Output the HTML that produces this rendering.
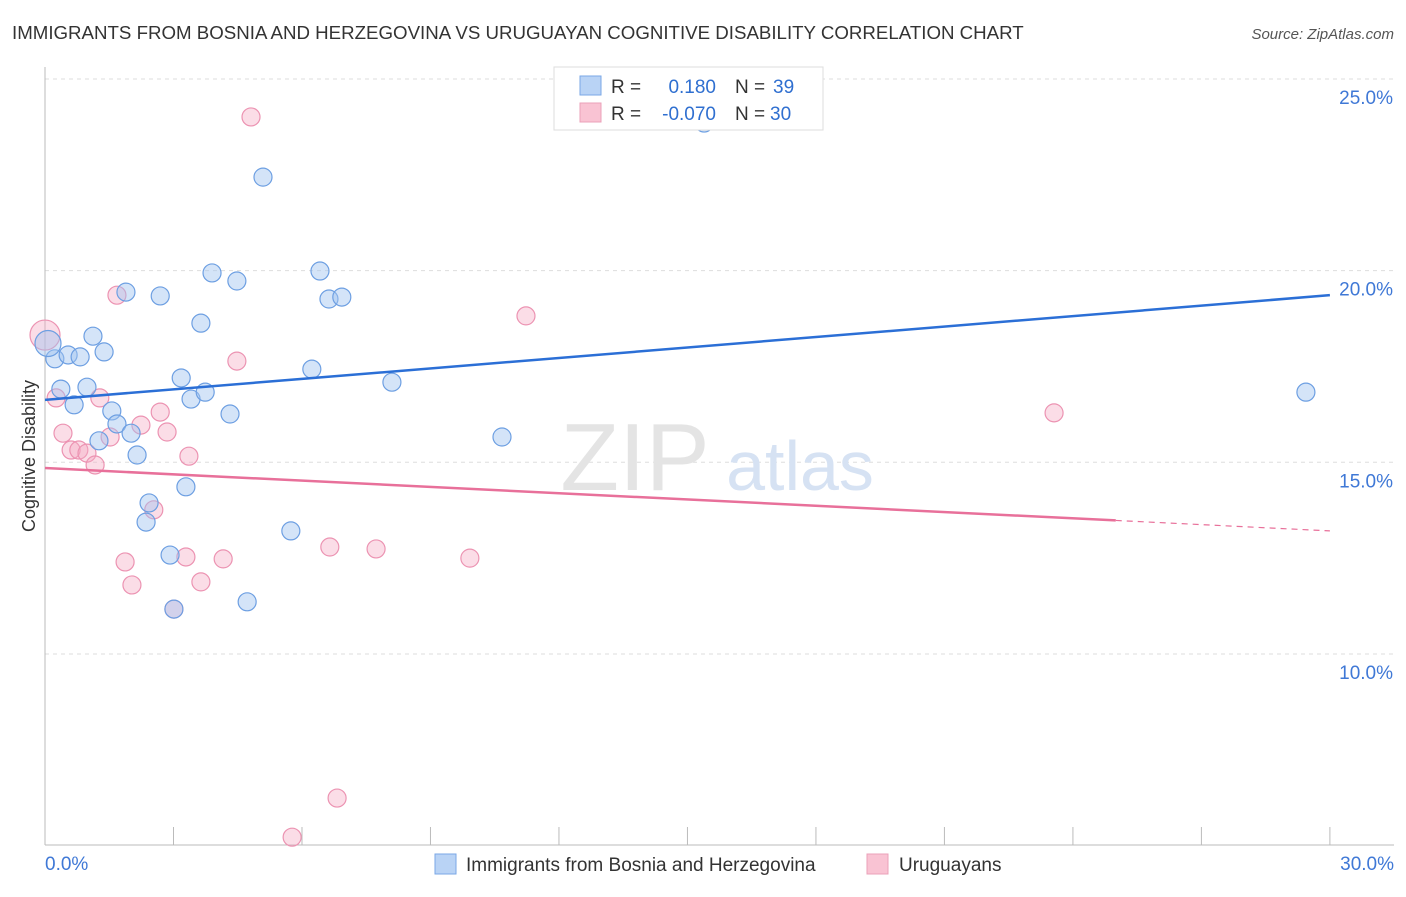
<!DOCTYPE html>
<html><head><meta charset="utf-8">
<style>
body{margin:0;background:#fff;font-family:"Liberation Sans",sans-serif;}
svg text{font-family:"Liberation Sans",sans-serif;}
</style></head>
<body>
<svg id="chart" width="1406" height="892" viewBox="0 0 1406 892" xmlns="http://www.w3.org/2000/svg">
<text x="12" y="39" font-size="18.7" fill="#333">IMMIGRANTS FROM BOSNIA AND HERZEGOVINA VS URUGUAYAN COGNITIVE DISABILITY CORRELATION CHART</text>
<text x="1394" y="39" font-size="15" fill="#555" font-style="italic" text-anchor="end">Source: ZipAtlas.com</text>
<g id="grid"></g>
<text x="635" y="490" font-size="96" fill="#e4e4e4" font-family="Liberation Serif" text-anchor="middle">ZIP</text>
<text x="800" y="490" font-size="70" fill="#d6e2f3" text-anchor="middle">atlas</text>
<g id="points"></g>
<g id="lines"></g>
<text x="35" y="456" font-size="18" fill="#333" transform="rotate(-90 35 456)" text-anchor="middle">Cognitive Disability</text>
<g>
<rect x="554" y="67" width="269" height="63" fill="#fff" stroke="#ddd"/>
<rect x="580" y="76" width="21" height="19" fill="#b9d3f5" stroke="#7aa7e6"/>
<rect x="580" y="103" width="21" height="19" fill="#f9c3d3" stroke="#eba0b8"/>
<text x="611" y="93" font-size="19" fill="#333">R = </text>
<text x="716" y="93" font-size="19" fill="#2f6fd0" text-anchor="end">0.180</text>
<text x="735" y="93" font-size="19" fill="#333">N = </text>
<text x="773" y="93" font-size="19" fill="#2f6fd0">39</text>
<text x="611" y="120" font-size="19" fill="#333">R = </text>
<text x="716" y="120" font-size="19" fill="#2f6fd0" text-anchor="end">-0.070</text>
<text x="735" y="120" font-size="19" fill="#333">N = </text>
<text x="770" y="120" font-size="19" fill="#2f6fd0">30</text>
</g>
<g>
<rect x="435" y="854" width="21" height="20" fill="#b9d3f5" stroke="#7aa7e6"/>
<text x="466" y="871" font-size="19" fill="#333">Immigrants from Bosnia and Herzegovina</text>
<rect x="867" y="854" width="21" height="20" fill="#f9c3d3" stroke="#eba0b8"/>
<text x="899" y="871" font-size="19" fill="#333">Uruguayans</text>
</g>
</svg>
<script>
const yTicks=[25,20,15,10];
const yTickLabels=["25.0%","20.0%","15.0%","10.0%"];
const xEndLabels=["0.0%","30.0%"];
const blueX=[0.23,0.54,0.82,0.37,0.68,0.98,1.12,1.38,1.56,1.68,1.26,2.01,2.15,1.89,2.69,2.43,2.36,2.92,3.01,3.18,3.29,3.41,3.74,3.64,3.90,4.48,4.32,5.09,4.72,5.74,6.42,6.63,6.93,6.23,8.10,10.67,15.39,29.44,0.07];
const blueY=[17.70,17.80,17.75,16.91,16.50,16.96,18.29,17.88,16.34,16.00,15.56,15.76,15.19,19.44,19.34,13.94,13.44,12.58,11.17,17.20,14.36,16.65,16.83,18.63,19.94,19.73,16.26,22.44,11.36,13.21,19.99,19.26,19.31,17.43,17.09,15.66,23.85,16.83,18.10];
const pinkX=[0,0.26,0.42,0.61,0.79,0.98,1.17,1.28,1.52,1.68,1.87,2.03,2.24,2.54,2.69,2.85,3.01,3.29,3.36,3.64,4.16,4.48,4.81,5.77,6.65,6.82,7.73,9.92,11.23,23.56];
const pinkY=[18.32,16.68,15.76,15.32,15.32,15.24,14.93,16.68,15.66,19.36,12.40,11.80,15.97,13.76,16.31,15.79,11.17,12.53,15.16,11.88,12.48,17.64,24.01,5.22,12.79,6.24,12.74,12.50,18.82,16.29];
const blueTrend=[16.63,19.36];
const pinkTrend=[14.85,13.21];
const NS="http://www.w3.org/2000/svg";
const X=v=>45+v*42.83;
const Y=v=>79+(25-v)*38.33;
function mk(tag,attrs,parent){const e=document.createElementNS(NS,tag);for(const k in attrs)e.setAttribute(k,attrs[k]);parent.appendChild(e);return e;}
const grid=document.getElementById('grid');
yTicks.forEach((t,i)=>{
  const l=mk('line',{x1:45,x2:1394,y1:Y(t),y2:Y(t),stroke:'#ddd','stroke-dasharray':'4,4'},grid);
  
  
  const tx=mk('text',{x:1393,y:Y(t)+25,'font-size':19,fill:'#3f78d6','text-anchor':'end'},grid);
  tx.textContent=yTickLabels[i];
  
  
});
const ax=mk('line',{x1:45,x2:45,y1:67,y2:845,stroke:'#bbb'},grid);


const bx=mk('line',{x1:45,x2:1394,y1:845,y2:845,stroke:'#bbb'},grid);


for(let i=0;i<=10;i++){
  const t=mk('line',{x1:X(i*3),x2:X(i*3),y1:827,y2:845,stroke:'#bbb'},grid);
  
  
}
[[0,'start',45],[30,'end',1394]].forEach((d,i)=>{
  const tx=mk('text',{x:d[2],y:870,'font-size':19,fill:'#3f78d6','text-anchor':d[1]},grid);
  tx.textContent=xEndLabels[i];
  
  
});
const pts=document.getElementById('points');
pinkX.forEach((x,i)=>{
  const c=mk('circle',{cx:X(x),cy:Y(pinkY[i]),r:i===0?15:9,fill:'rgba(244,170,196,0.4)',stroke:'#ec93b2','stroke-width':1.2},pts);
  
  
});
blueX.forEach((x,i)=>{
  const c=mk('circle',{cx:X(x),cy:Y(blueY[i]),r:i===blueX.length-1?13:9,fill:'rgba(160,196,240,0.45)',stroke:'#6d9fe2','stroke-width':1.2},pts);
  
  
});
const lines=document.getElementById('lines');
const bl=mk('line',{x1:X(0),y1:Y(blueTrend[0]),x2:X(30),y2:Y(blueTrend[1]),stroke:'#2b6fd6','stroke-width':2.5},lines);


const pAt=x=>pinkTrend[0]+(pinkTrend[1]-pinkTrend[0])*x/30;
const pl=mk('line',{x1:X(0),y1:Y(pAt(0)),x2:X(25),y2:Y(pAt(25)),stroke:'#e8709a','stroke-width':2.5},lines);


const pd=mk('line',{x1:X(25),y1:Y(pAt(25)),x2:X(30),y2:Y(pAt(30)),stroke:'#e8709a','stroke-width':1.2,'stroke-dasharray':'6,5'},lines);


</script>
</body></html>
